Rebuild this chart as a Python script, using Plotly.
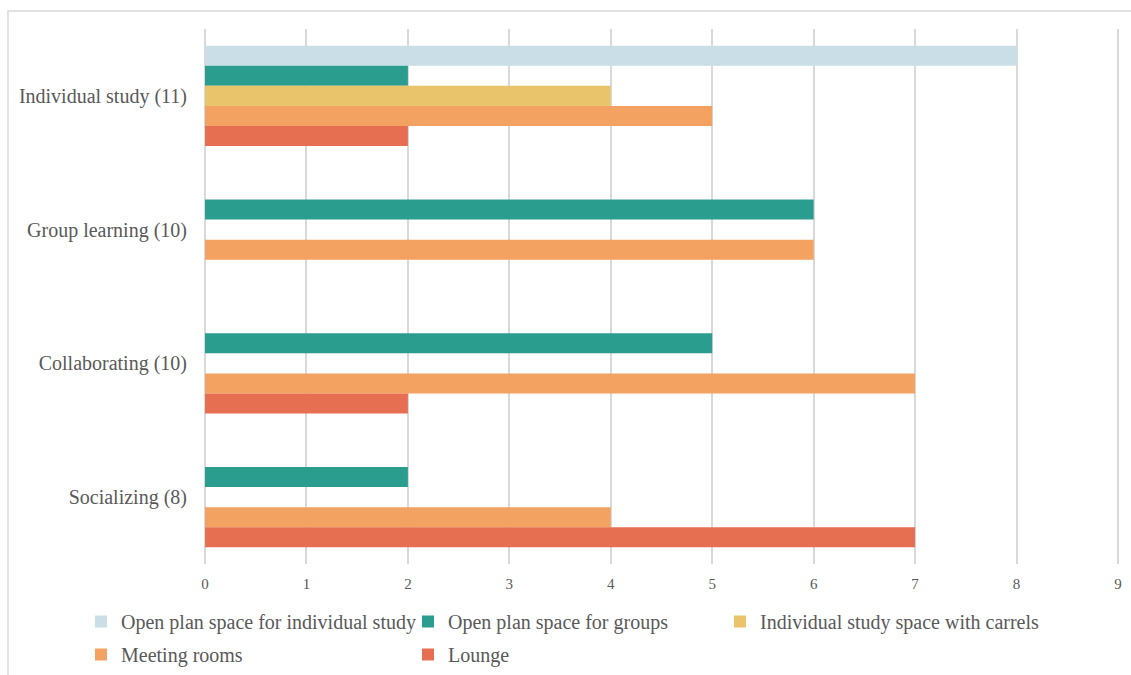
import plotly.graph_objects as go

categories = ["Individual study (11)", "Group learning (10)", "Collaborating (10)", "Socializing (8)"]
series_names = [
    "Open plan space for individual study",
    "Open plan space for groups",
    "Individual study space with carrels",
    "Meeting rooms",
    "Lounge",
]
open_individual = [8, None, None, None]
open_groups = [2, 6, 5, 2]
carrels = [4, None, None, None]
meeting_rooms = [5, 6, 7, 4]
lounge = [2, None, 2, 7]
x_ticks = [0, 1, 2, 3, 4, 5, 6, 7, 8, 9]

colors = ["#C9DEE6", "#2A9D8F", "#E9C46A", "#F4A261", "#E76F51"]
series_values = [open_individual, open_groups, carrels, meeting_rooms, lounge]
legend_ids = ["legend", "legend2", "legend3", "legend4", "legend5"]

fig = go.Figure()
for name, vals, col, lg in zip(series_names, series_values, colors, legend_ids):
    fig.add_trace(go.Bar(
        y=categories, x=vals, name=name, orientation="h",
        marker=dict(color=col, line=dict(width=0)), legend=lg,
    ))

W, H = 1131, 675
L, R, T, B = 204, 12, 29, 111
pw, ph = W - L - R, H - T - B

def px_x(x):
    return (x - L) / pw

def px_y(y):
    return (H - B - y) / ph

fig.add_shape(type="rect", xref="paper", yref="paper",
              x0=px_x(8), x1=px_x(1140), y0=px_y(684), y1=px_y(11),
              line=dict(color="#D9D9D9", width=1.5), fillcolor="rgba(0,0,0,0)", layer="below")

font_family = "Liberation Serif, Times New Roman, serif"
legend_common = dict(orientation="h", xanchor="left", yanchor="top",
                     font=dict(size=20), bgcolor="rgba(0,0,0,0)")
col_x = [81, 408, 720]
row_y = [602, 635]
legend_pos = [(col_x[0], row_y[0]), (col_x[1], row_y[0]), (col_x[2], row_y[0]),
              (col_x[0], row_y[1]), (col_x[1], row_y[1])]
legend_layout = {}
for lg, (lx, ly) in zip(legend_ids, legend_pos):
    legend_layout[lg] = dict(x=px_x(lx), y=px_y(ly), **legend_common)

fig.update_layout(
    width=W, height=H,
    margin=dict(l=L, r=R, t=T, b=B, pad=0, autoexpand=False),
    paper_bgcolor="white", plot_bgcolor="white",
    barmode="group", bargap=0.25, bargroupgap=0,
    font=dict(family=font_family, color="#595959", size=20),
    xaxis=dict(range=[-0.01, 9.01], tickvals=x_ticks, showgrid=True, gridcolor="#D9D9D9", gridwidth=1.5,
               zeroline=False, showline=False, tickfont=dict(size=15, color="#595959"), ticks="",
               ticklabelstandoff=9, fixedrange=True),
    yaxis=dict(autorange="reversed", showgrid=False, zeroline=False, showline=False,
               tickfont=dict(size=20), ticks="", ticklabelstandoff=16, fixedrange=True),
    showlegend=True,
    **legend_layout,
)

fig.write_html("out.html")
